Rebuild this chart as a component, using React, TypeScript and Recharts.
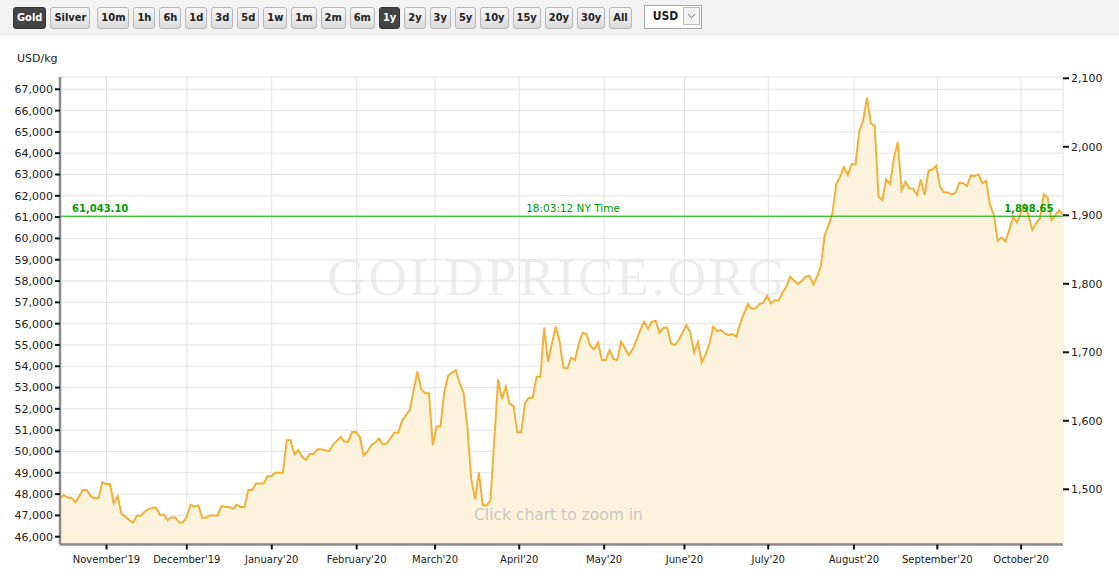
import { ComposedChart, Area, Line, XAxis, YAxis, CartesianGrid, ReferenceLine } from "recharts";

// gold price, USD per kg, one point per trading day (Oct 2019 .. Oct 2020)
const prices = [
  47800, 47950, 47830, 47830, 47610, 47900, 48190, 48190, 47900, 47800,
  47800, 48560, 48470, 48470, 47560, 47900, 47060, 46940, 46790, 46650,
  46980, 46980, 47170, 47290, 47360, 47360, 47030, 47030, 46780, 46900,
  46900, 46670, 46670, 46940, 47500, 47400, 47470, 46890, 46890, 47000,
  47000, 47000, 47440, 47400, 47400, 47310, 47500, 47400, 47400, 48190,
  48190, 48500, 48500, 48500, 48840, 48840, 49000, 49000, 49000, 50530,
  50530, 49860, 50070, 49750, 49600, 49880, 49880, 50100, 50100, 50060,
  50020, 50300, 50500, 50690, 50460, 50460, 50910, 50910, 50690, 49830,
  49990, 50300, 50410, 50600, 50330, 50380, 50630, 50880, 50880, 51430,
  51700, 51940, 52850, 53760, 52930, 52730, 52730, 50280, 51170, 51170,
  52780, 53560, 53700, 53820, 53200, 52770, 51160, 48740, 47750, 49020,
  47480, 47480, 47690, 50540, 53380, 52460, 53040, 52230, 52150, 50900,
  50900, 52260, 52520, 52520, 53510, 53510, 55810, 54210, 55070, 55860,
  55180, 53930, 53900, 54400, 54290, 55070, 55570, 55500, 54950, 54790,
  55110, 54290, 54290, 54760, 54340, 54290, 55150, 54840, 54530, 54790,
  55230, 55700, 56090, 55750, 56090, 56140, 55570, 55810, 55810, 55070,
  55000, 55230, 55570, 55930, 55590, 54640, 55150, 54170, 54560, 55070,
  55860, 55650, 55700, 55540, 55470, 55510, 55390, 56010, 56480, 56910,
  56690, 56720, 56920, 56980, 57300, 56950, 57110, 57080, 57450, 57730,
  58200, 58020, 57860, 58000, 58200, 58250, 57840, 58200, 58700, 60160,
  60630, 61180, 62550, 62900, 63340, 62980, 63490, 63460, 65060, 65530,
  66620, 65400, 65280, 61960, 61800, 62770, 62550, 63760, 64510, 62270,
  62660, 62350, 62340, 62040, 62770, 62040, 63180, 63240, 63410, 62430,
  62160, 62160, 62070, 62120, 62620, 62590, 62460, 62950, 62930, 63010,
  62590, 62710, 61570, 61100, 59890, 60050, 59850, 60390, 61020, 60740,
  61180, 61570, 61100, 60390, 60710, 60940, 62070, 61910, 60860, 61070,
  61330, 61100,
];

// month starts, as trading-day positions
const monthTicks = [12.1, 33.0, 55.1, 77.2, 97.6, 119.5, 141.6, 162.5, 184.3, 206.6, 228.3, 250.1];
const monthLabels = [
  "November'19", "December'19", "January'20", "February'20", "March'20", "April'20",
  "May'20", "June'20", "July'20", "August'20", "September'20", "October'20",
];

const kgTicks = [
  46000, 47000, 48000, 49000, 50000, 51000, 52000, 53000, 54000, 55000, 56000,
  57000, 58000, 59000, 60000, 61000, 62000, 63000, 64000, 65000, 66000, 67000,
];
const ozTicks = [1500, 1600, 1700, 1800, 1900, 2000, 2100];
const kgDomain = [45634, 67577];
const OZ_PER_KG = 32.1507;

const spotKg = 61043.1;
const spotOz = 1898.65;
const spotTime = "18:03:12 NY Time";

const metals = ["Gold", "Silver"];
const ranges = ["10m", "1h", "6h", "1d", "3d", "5d", "1w", "1m", "2m", "6m", "1y", "2y", "3y", "5y", "10y", "15y", "20y", "30y", "All"];
const activeMetal = "Gold";
const activeRange = "1y";

const rows = prices.map((kg, day) => ({ day, kg, oz: kg / OZ_PER_KG }));
const ozDomain = kgDomain.map((v) => v / OZ_PER_KG);

const FONT = "DejaVu Sans, Verdana, sans-serif";
const BTN_FONT = "'DejaVu Sans Condensed', 'DejaVu Sans', sans-serif";
const fmt2 = (v: number) => v.toLocaleString("en-US", { minimumFractionDigits: 2, maximumFractionDigits: 2 });

function SpotLabel(props: any) {
  const vb = props.viewBox;
  if (!vb) return null;
  const { x, y, width } = vb;
  return (
    <g fontFamily={FONT} fill="#00a000">
      <text x={x + 12} y={y - 4} fontSize={10} fontWeight="bold">{fmt2(spotKg)}</text>
      <text x={x + width * 0.5115} y={y - 4} fontSize={10.5} textAnchor="middle">{spotTime}</text>
      <text x={x + width - 9.5} y={y - 4} fontSize={10} fontWeight="bold" textAnchor="end">{fmt2(spotOz)}</text>
    </g>
  );
}

function Btn({ label, active, gap }: { label: string; active: boolean; gap: number }) {
  return (
    <div
      style={{
        height: 22,
        boxSizing: "border-box",
        padding: "0 3px",
        lineHeight: "20px",
        marginRight: gap,
        border: active ? "1px solid #333" : "1px solid #b8b8b8",
        borderRadius: 3,
        background: active ? "#444" : "linear-gradient(#f6f6f6, #dcdcdc)",
        color: active ? "#fff" : "#222",
        fontFamily: BTN_FONT,
        fontStretch: "condensed",
        fontWeight: "bold",
        fontSize: 11,
      }}
    >
      {label}
    </div>
  );
}

function Toolbar() {
  return (
    <div
      style={{
        position: "absolute",
        left: 0,
        top: 0,
        width: 1119,
        height: 36,
        background: "#f2f2f2",
        display: "flex",
        alignItems: "flex-start",
        paddingTop: 7,
        paddingLeft: 13,
        boxSizing: "border-box",
      }}
    >
      {metals.map((m, i) => (
        <Btn key={m} label={m} active={m === activeMetal} gap={i === metals.length - 1 ? 7 : 4} />
      ))}
      {ranges.map((r) => (
        <Btn key={r} label={r} active={r === activeRange} gap={4} />
      ))}
      <div
        style={{
          marginLeft: 8,
          marginTop: -2,
          width: 58,
          height: 24,
          boxSizing: "border-box",
          border: "1px solid #aaa",
          background: "#fff",
          display: "flex",
          justifyContent: "space-between",
        }}
      >
        <span style={{ fontFamily: BTN_FONT, fontWeight: "bold", fontSize: 12, lineHeight: "20px", paddingLeft: 8, color: "#222" }}>
          USD
        </span>
        <div style={{ width: 17, height: 18, marginTop: 1, marginRight: 1, border: "1px solid #bbb", boxSizing: "border-box", background: "#f4f4f4" }}>
          <svg width={15} height={16}>
            <polyline points="4,6 7.5,10 11,6" fill="none" stroke="#777" strokeWidth={1} />
          </svg>
        </div>
      </div>
    </div>
  );
}

export default function App() {
  return (
    <div style={{ position: "fixed", left: 0, top: 0, width: 1119, height: 580, background: "#fff", overflow: "hidden" }}>
      <Toolbar />
      <svg style={{ position: "absolute", left: 0, top: 0 }} width={1119} height={580}>
        <text x={558} y={295} textAnchor="middle" fontFamily="'Liberation Serif', serif" fontSize={53} letterSpacing={3} fill="#eeeeee">
          GOLDPRICE.ORG
        </text>
      </svg>
      <div style={{ position: "absolute", left: 0, top: 0 }}>
        <ComposedChart width={1119} height={580} data={rows} margin={{ top: 77, right: 0, bottom: 17, left: 0 }}>
          <CartesianGrid yAxisId="kg" stroke="#e4e4e4" />
          <XAxis
            dataKey="day"
            type="number"
            domain={[0, prices.length - 1]}
            ticks={monthTicks}
            interval={0}
            tickFormatter={(v) => monthLabels[monthTicks.indexOf(v)]}
            height={18.5}
            tickSize={5}
            tickMargin={6}
            axisLine={{ stroke: "#8a8a8a", strokeWidth: 2.5 }}
            tickLine={{ stroke: "#111", strokeWidth: 2 }}
            tick={{ fill: "#222", fontSize: 10, fontFamily: FONT }}
          />
          <YAxis
            yAxisId="kg"
            domain={kgDomain}
            ticks={kgTicks}
            interval={0}
            allowDataOverflow
            width={60}
            tickSize={5}
            tickMargin={2}
            tickFormatter={(v) => v.toLocaleString("en-US")}
            axisLine={{ stroke: "#8a8a8a", strokeWidth: 2.5 }}
            tickLine={{ stroke: "#111", strokeWidth: 2 }}
            tick={{ fill: "#222", fontSize: 11, fontFamily: FONT }}
          />
          <YAxis
            yAxisId="oz"
            orientation="right"
            domain={ozDomain}
            ticks={ozTicks}
            interval={0}
            allowDataOverflow
            width={56}
            tickSize={6}
            tickMargin={2}
            tickFormatter={(v) => v.toLocaleString("en-US")}
            axisLine={false}
            tickLine={{ stroke: "#111", strokeWidth: 2 }}
            tick={{ fill: "#222", fontSize: 11, fontFamily: FONT }}
          />
          <Area
            yAxisId="kg"
            dataKey="kg"
            type="linear"
            stroke="#f3b13a"
            strokeWidth={2}
            fill="#fcf3dc"
            fillOpacity={1}
            dot={false}
            activeDot={false}
            isAnimationActive={false}
          />
          <Line yAxisId="oz" dataKey="oz" stroke="none" dot={false} activeDot={false} isAnimationActive={false} />
          <ReferenceLine yAxisId="kg" y={spotKg} stroke="#00a400" strokeWidth={1} label={<SpotLabel />} />
        </ComposedChart>
      </div>
      <svg style={{ position: "absolute", left: 0, top: 0, pointerEvents: "none" }} width={1119} height={580}>
        <text x={17} y={62} fontFamily={FONT} fontSize={11} fill="#222">USD/kg</text>
        <text x={474} y={519.5} fontFamily={FONT} fontSize={15.5} fill="#c8c8c8">Click chart to zoom in</text>
      </svg>
    </div>
  );
}
